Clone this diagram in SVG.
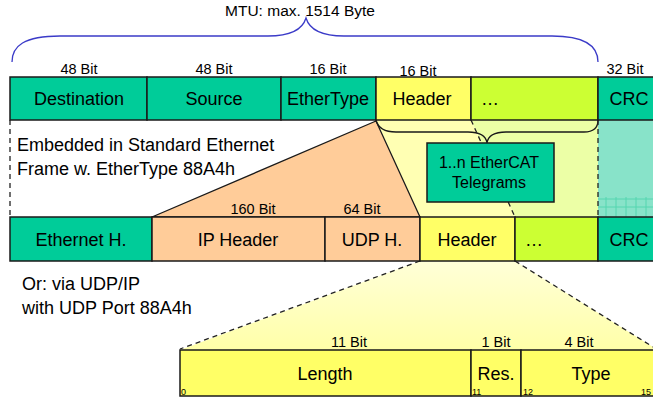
<svg xmlns="http://www.w3.org/2000/svg" width="653" height="397" viewBox="0 0 653 397">
<style>
text{font-family:"Liberation Sans",Arial,sans-serif;fill:#000}
.box{stroke:#1a1a1a;stroke-width:1.5}
.teal{fill:#00cc99}
.yel{fill:#ffff66}
.lime{fill:#ccff33}
.org{fill:#ffcc99}
.big{font-size:18px;text-anchor:middle}
.lbl{font-size:14.5px;text-anchor:middle}
.note{font-size:18px}
.tiny{font-size:9px}
.dash{stroke:#222;stroke-width:1.3;stroke-dasharray:5 4;fill:none}
</style>
<defs>
<linearGradient id="gy" x1="0" y1="0" x2="0" y2="1">
<stop offset="0" stop-color="#ffffd8"/>
<stop offset="1" stop-color="#ffffa8"/>
</linearGradient>
</defs>
<rect width="653" height="397" fill="#fff"/>
<g id="backgrounds">
<polygon points="376,120 471,120 515,217 420,217" fill="#ffffb3"/>
<polygon points="471,120 598,120 598,217 515,217" fill="#ecffa6"/>
<rect x="598" y="120" width="60" height="97" fill="#88e3c9"/>
<g stroke="#55d6b0" stroke-width="1">
<line x1="598" y1="199" x2="653" y2="199"/><line x1="598" y1="207" x2="653" y2="207"/>
<line x1="606" y1="197" x2="606" y2="217"/><line x1="616" y1="197" x2="616" y2="217"/><line x1="626" y1="197" x2="626" y2="217"/><line x1="636" y1="197" x2="636" y2="217"/><line x1="646" y1="197" x2="646" y2="217"/>
</g>
<polygon points="376,121 152,217 420,217" fill="#ffcc99" stroke="#1a1a1a" stroke-width="1.3"/>
<polygon points="420,261 515,261 653,347 653,350 180,350" fill="url(#gy)"/>
</g>
<g id="connectors">
<path d="M12,62 C12,46 24,36 60,36 L268,36 C292,36 303,28 306,18 C309,28 320,36 344,36 L552,36 C586,36 598,46 598,62" fill="none" stroke="#3b3bc8" stroke-width="1.3"/>
<path d="M376,120 C378,128 384,132 396,132 L468,132 C480,132 486,136 487,143 C488,136 494,132 506,132 L584,132 C594,132 598,128 598,120" fill="none" stroke="#1a1a1a" stroke-width="1.3"/>
<line x1="10" y1="120" x2="10" y2="217" class="dash"/>
<line x1="471" y1="120" x2="515" y2="217" class="dash"/>
<line x1="598" y1="120" x2="598" y2="217" class="dash"/>
<line x1="420" y1="261" x2="180" y2="349" class="dash"/>
<line x1="515" y1="261" x2="653" y2="347" class="dash"/>
</g>
<g id="title">
<text x="300" y="16" class="lbl" style="font-size:15.5px">MTU: max. 1514 Byte</text>
</g>
<g id="row1">
<g id="r1-destination"><rect x="10" y="77" width="137" height="43" class="box teal"/><text x="79" y="105" class="big">Destination</text><text x="79" y="74" class="lbl">48 Bit</text></g>
<g id="r1-source"><rect x="147" y="77" width="134" height="43" class="box teal"/><text x="214" y="105" class="big">Source</text><text x="214" y="74" class="lbl">48 Bit</text></g>
<g id="r1-ethertype"><rect x="281" y="77" width="95" height="43" class="box teal"/><text x="328" y="105" class="big">EtherType</text><text x="328" y="74" class="lbl">16 Bit</text></g>
<g id="r1-header"><rect x="376" y="77" width="95" height="43" class="box yel"/><text x="422" y="105" class="big">Header</text><text x="418" y="76" class="lbl">16 Bit</text></g>
<g id="r1-dots"><rect x="471" y="77" width="127" height="43" class="box lime"/><text x="481" y="105" class="note">…</text></g>
<g id="r1-crc"><rect x="598" y="77" width="62" height="43" class="box teal"/><text x="629" y="105" class="big">CRC</text><text x="625" y="74" class="lbl">32 Bit</text></g>
</g>
<g id="telegrams">
<rect x="427" y="143" width="127" height="59" class="box teal"/>
<text x="489" y="168" class="big" style="font-size:16px">1..n EtherCAT</text>
<text x="489" y="188" class="big" style="font-size:16px">Telegrams</text>
</g>
<g id="note-ethernet">
<text x="17" y="151" class="note">Embedded in Standard Ethernet</text>
<text x="17" y="175" class="note">Frame w. EtherType 88A4h</text>
</g>
<g id="row2">
<g id="r2-eth"><rect x="10" y="217" width="142" height="44" class="box teal"/><text x="81" y="246" class="big">Ethernet H.</text></g>
<g id="r2-ip"><rect x="152" y="217" width="173" height="44" class="box org"/><text x="238" y="246" class="big">IP Header</text><text x="253" y="214" class="lbl">160 Bit</text></g>
<g id="r2-udp"><rect x="325" y="217" width="95" height="44" class="box org"/><text x="372" y="246" class="big">UDP H.</text><text x="362" y="214" class="lbl">64 Bit</text></g>
<g id="r2-header"><rect x="420" y="217" width="95" height="44" class="box yel"/><text x="467" y="246" class="big">Header</text></g>
<g id="r2-dots"><rect x="515" y="217" width="83" height="44" class="box lime"/><text x="525" y="246" class="note">…</text></g>
<g id="r2-crc"><rect x="598" y="217" width="62" height="44" class="box teal"/><text x="629" y="246" class="big">CRC</text></g>
</g>
<g id="note-udp">
<text x="22" y="290" class="note">Or: via UDP/IP</text>
<text x="22" y="314" class="note">with UDP Port 88A4h</text>
</g>
<g id="row3">
<g id="r3-length"><rect x="180" y="350" width="291" height="46" class="box yel"/><text x="325" y="380" class="big">Length</text><text x="349" y="347" class="lbl">11 Bit</text><text x="181" y="395" class="tiny">0</text></g>
<g id="r3-res"><rect x="471" y="350" width="50" height="46" class="box yel"/><text x="496" y="380" class="big">Res.</text><text x="496" y="347" class="lbl">1 Bit</text><text x="472" y="395" class="tiny">11</text></g>
<g id="r3-type"><rect x="521" y="350" width="140" height="46" class="box yel"/><text x="591" y="380" class="big">Type</text><text x="579" y="347" class="lbl">4 Bit</text><text x="523" y="395" class="tiny">12</text><text x="641" y="395" class="tiny">15</text></g>
</g>
</svg>
